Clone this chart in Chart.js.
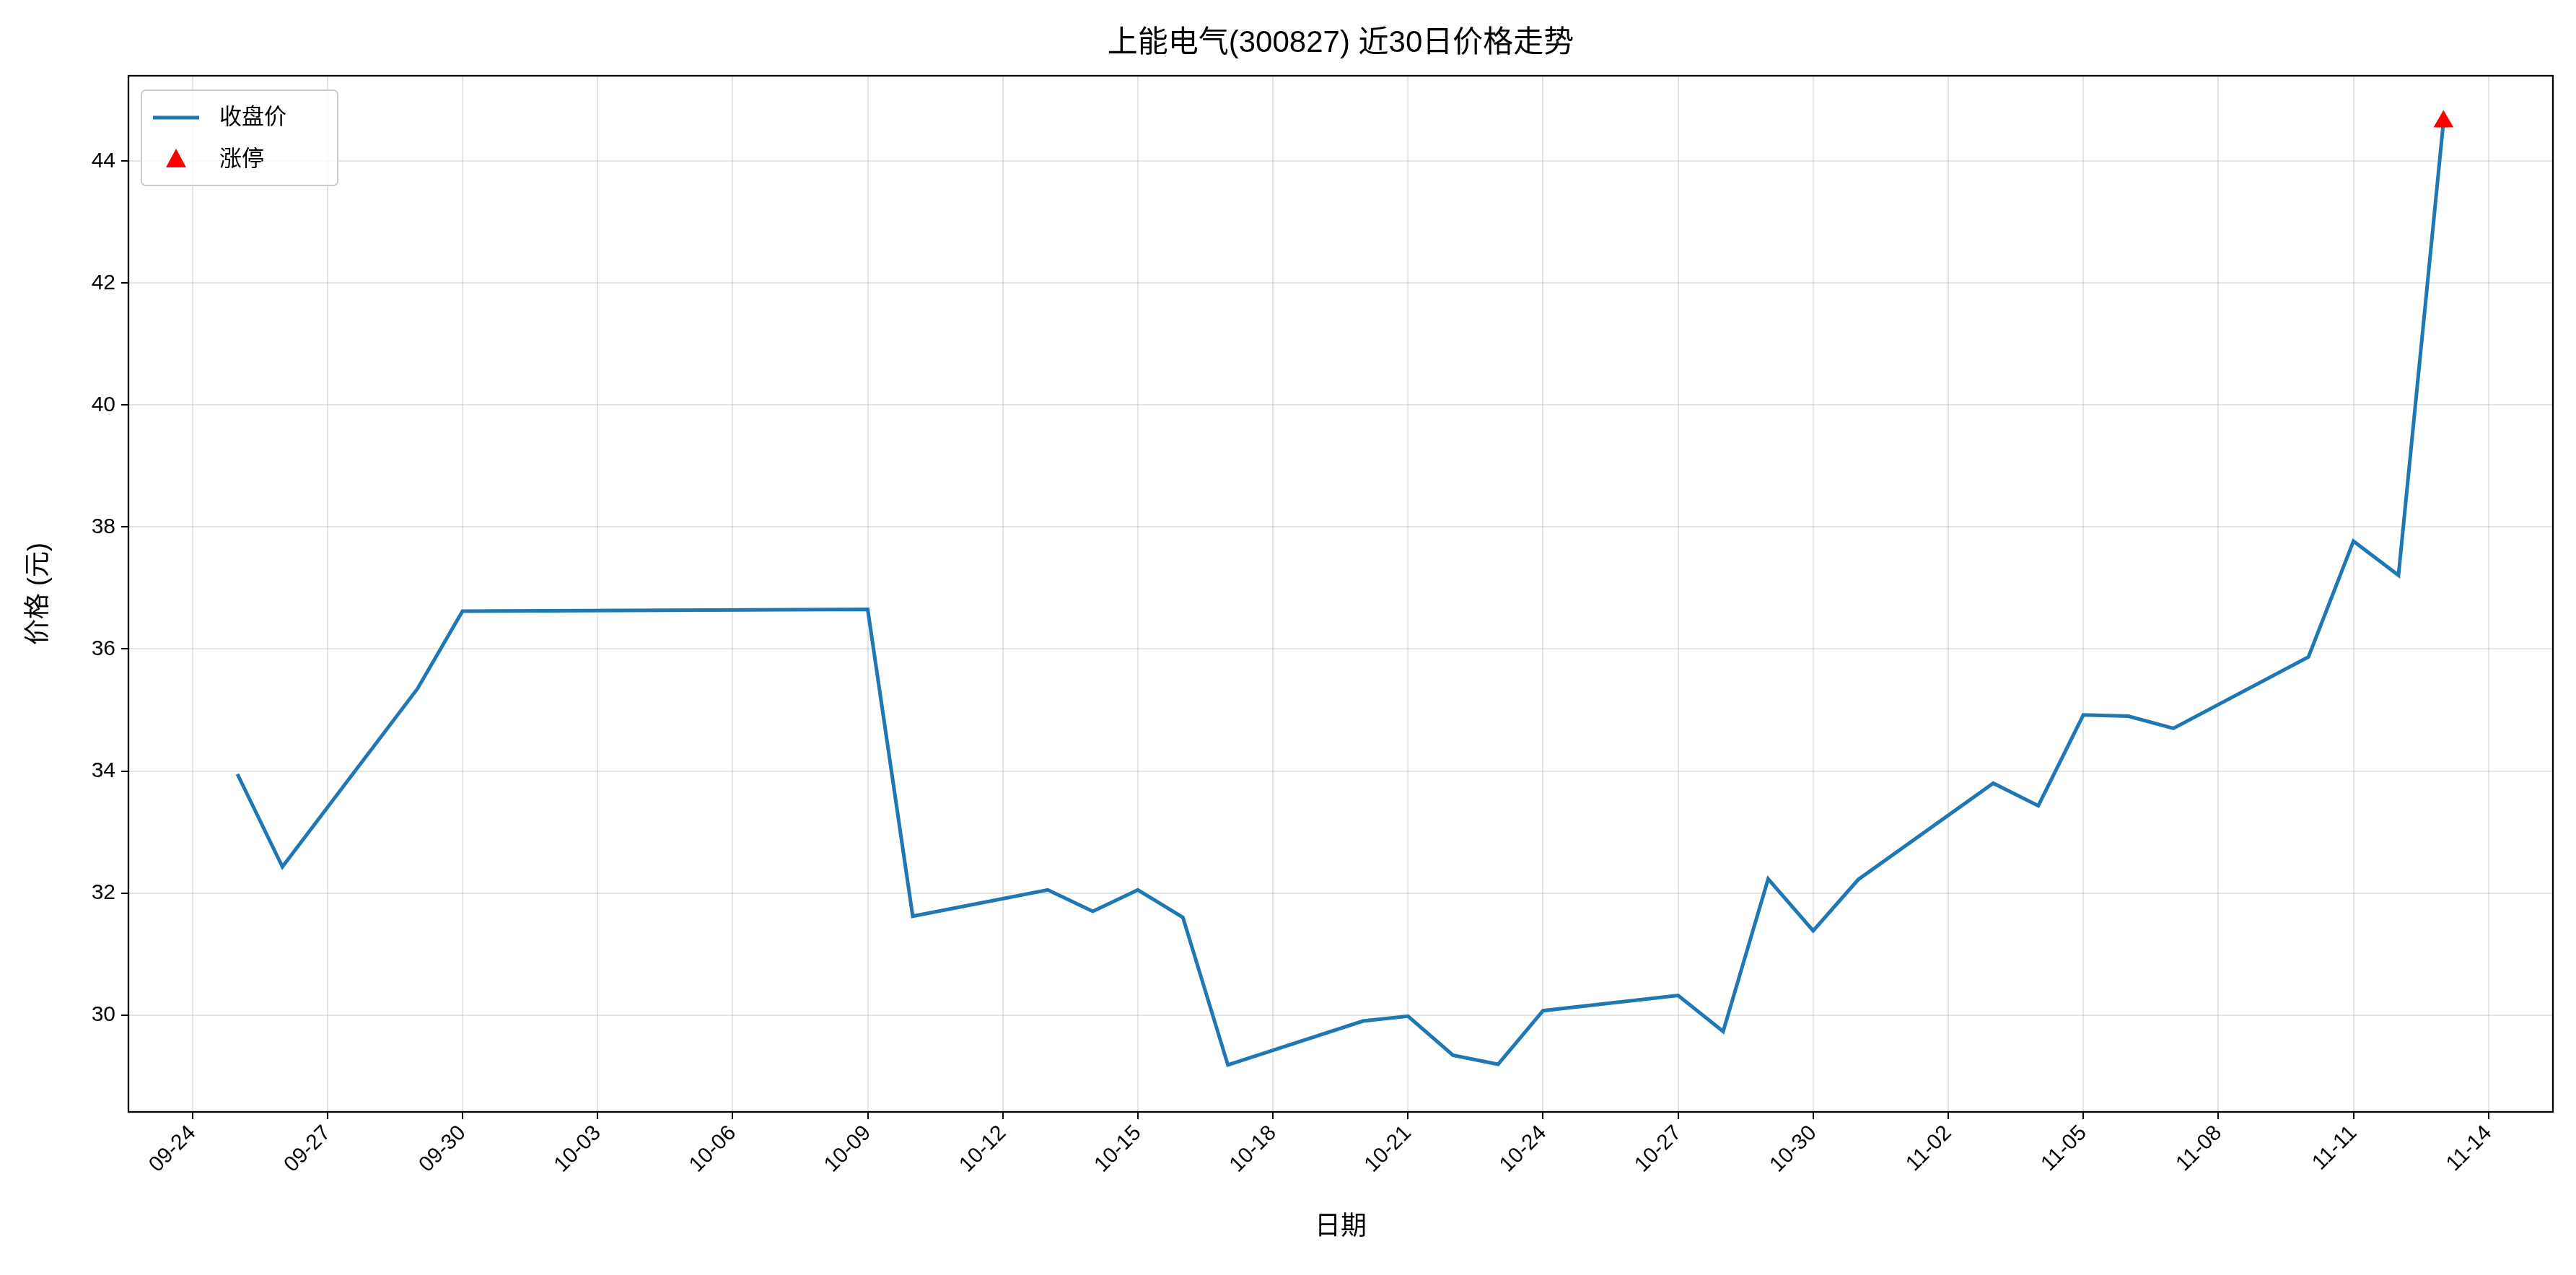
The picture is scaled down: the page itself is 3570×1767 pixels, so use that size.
<!DOCTYPE html>
<html><head><meta charset="utf-8">
<script src="https://cdn.jsdelivr.net/npm/chart.js@4"></script>
<style>html,body{margin:0;padding:0;background:#fff}#w{width:3570px;height:1767px}</style>
</head><body><div id="w"><canvas id="c"></canvas></div>
<script>
const dates = ["09-25","09-26","09-29","09-30","10-09","10-10","10-13","10-14","10-15","10-16","10-17","10-20","10-21","10-22","10-23","10-24","10-27","10-28","10-29","10-30","10-31","11-03","11-04","11-05","11-06","11-07","11-10","11-11","11-12","11-13"];
const closes = [33.95,32.43,35.35,36.62,36.65,31.62,32.05,31.70,32.05,31.60,29.18,29.90,29.98,29.34,29.19,30.07,30.32,29.73,32.23,31.38,32.22,33.80,33.43,34.92,34.90,34.70,35.87,37.77,37.21,44.65];
const limitUpDates = ["11-13"];
const limitUpValues = [44.65];
const tickLabels = ["09-24","09-27","09-30","10-03","10-06","10-09","10-12","10-15","10-18","10-21","10-24","10-27","10-30","11-02","11-05","11-08","11-11","11-14"];
const yTicks = [30,32,34,36,38,40,42,44];

function dayIndex(s){const [m,d]=s.split('-').map(Number);const base=new Date(2025,8,24);return Math.round((new Date(2025,m-1,d)-base)/86400000);}
const tickPos = tickLabels.map(dayIndex);
const FONT = '"Liberation Sans","Noto Sans CJK SC",sans-serif';

const deco = {
 id:'deco',
 afterDraw(ch){
  const {ctx,chartArea:a}=ch;
  ctx.save();
  ctx.strokeStyle='#000';ctx.lineWidth=2.3;
  ctx.strokeRect(a.left,a.top,a.right-a.left,a.bottom-a.top);
  ctx.fillStyle='#000';ctx.font='42px '+FONT;ctx.textAlign='center';ctx.textBaseline='middle';
  ctx.fillText('上能电气(300827) 近30日价格走势',(a.left+a.right)/2,60);
  const lx=a.left+18, ly=a.top+20, w=272, h=132;
  ctx.fillStyle='rgba(255,255,255,0.8)';ctx.strokeStyle='#ccc';ctx.lineWidth=2;
  ctx.beginPath();ctx.roundRect(lx,ly,w,h,6);ctx.fill();ctx.stroke();
  ctx.strokeStyle='#1f77b4';ctx.lineWidth=5;
  ctx.beginPath();ctx.moveTo(lx+16,ly+38);ctx.lineTo(lx+80,ly+38);ctx.stroke();
  ctx.fillStyle='red';ctx.beginPath();
  const cx=lx+48,cy=ly+96;ctx.moveTo(cx,cy-15);ctx.lineTo(cx+14,cy+11);ctx.lineTo(cx-14,cy+11);ctx.closePath();ctx.fill();
  ctx.fillStyle='#000';ctx.font='31px '+FONT;ctx.textAlign='left';
  ctx.fillText('收盘价',lx+108,ly+38);ctx.fillText('涨停',lx+108,ly+96);
  ctx.restore();
 }
};

new Chart(document.getElementById('c'),{
 type:'scatter',
 data:{datasets:[
  {label:'涨停',data:limitUpDates.map((d,i)=>({x:dayIndex(d),y:limitUpValues[i]})),pointStyle:'triangle',radius:16,backgroundColor:'red',borderColor:'red',borderWidth:0,order:0},
  {label:'收盘价',type:'line',data:dates.map((d,i)=>({x:dayIndex(d),y:closes[i]})),borderColor:'#1f77b4',borderWidth:5,pointRadius:0,tension:0,fill:false,order:1}
 ]},
 plugins:[deco],
 options:{
  responsive:true,maintainAspectRatio:false,animation:false,devicePixelRatio:1,
  layout:{padding:{top:105,right:32,left:28,bottom:40}},
  plugins:{legend:{display:false},title:{display:false},tooltip:{enabled:false}},
  scales:{
   x:{type:'linear',min:-1.42,max:52.43,
     afterBuildTicks(s){s.ticks=tickPos.map(v=>({value:v}));},
     afterFit(s){s.height=186;},
     ticks:{callback:(v)=>{const i=tickPos.indexOf(v);return i>=0?tickLabels[i]:'';},maxRotation:45,minRotation:45,color:'#000',font:{size:30,family:FONT},padding:2},
     grid:{color:'rgba(0,0,0,0.1)',lineWidth:2,tickColor:'#000',tickLength:10},
     border:{display:false},
     title:{display:true,text:'日期',color:'#000',font:{size:36,family:FONT},padding:{top:0}}},
   y:{min:28.41,max:45.40,
     afterBuildTicks(s){s.ticks=yTicks.map(v=>({value:v}));},
     afterFit(s){s.width=150;},
     ticks:{color:'#000',font:{size:30,family:FONT},padding:8},
     grid:{color:'rgba(0,0,0,0.1)',lineWidth:2,tickColor:'#000',tickLength:10},
     border:{display:false},
     title:{display:true,text:'价格 (元)',color:'#000',font:{size:36,family:FONT},padding:{bottom:6}}}
  }
 }
});
</script></body></html>
